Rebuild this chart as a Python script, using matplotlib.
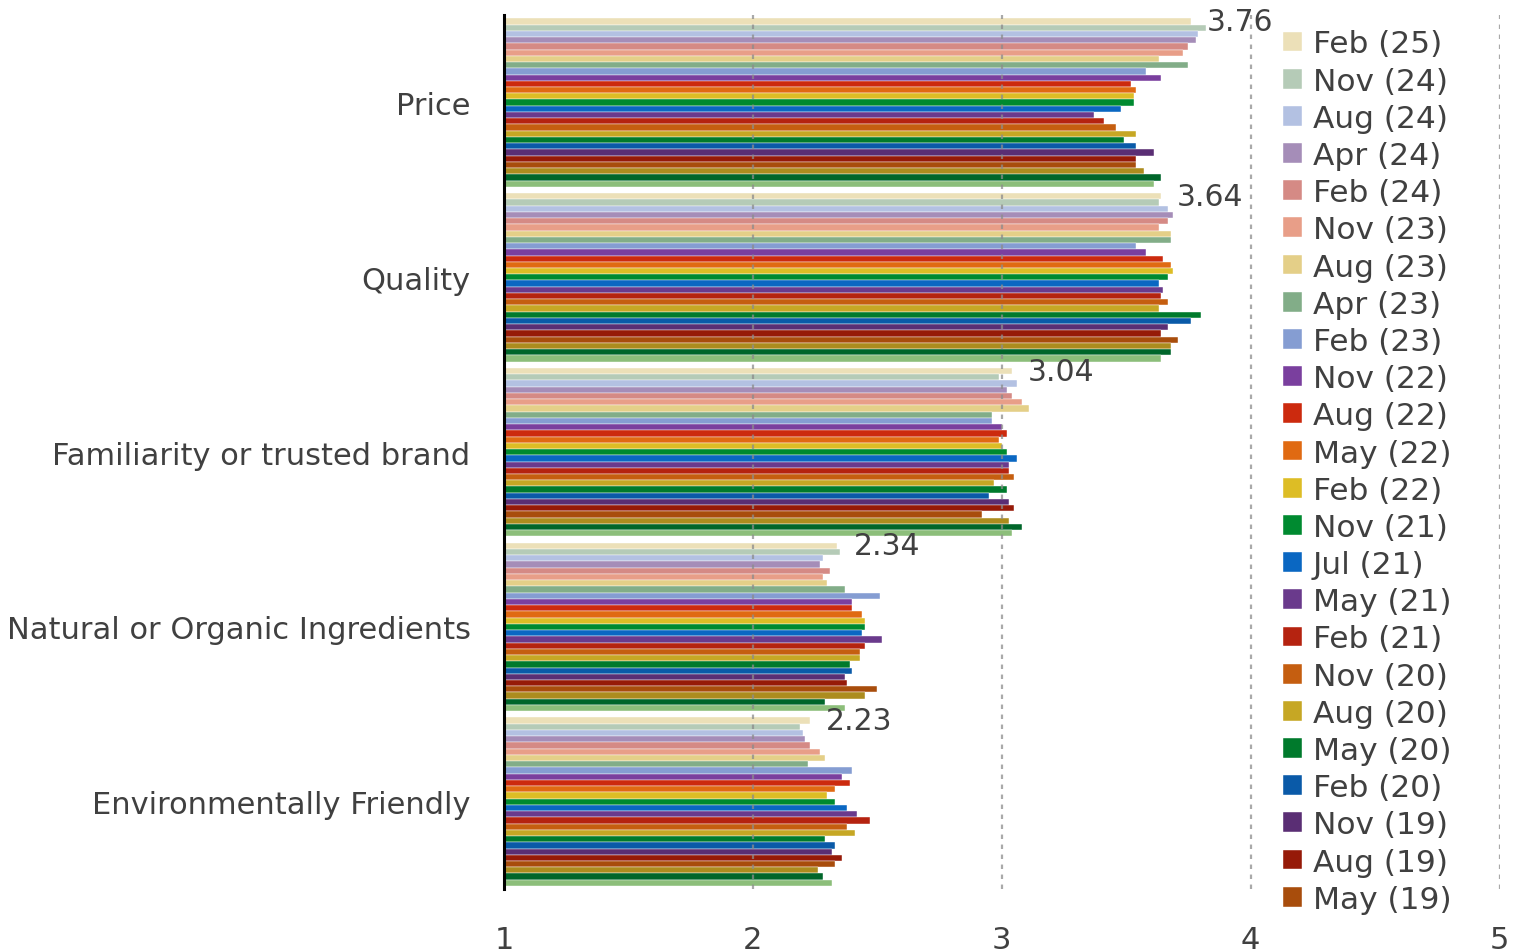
import matplotlib.pyplot as plt
import numpy as np

categories = ["Price", "Quality", "Familiarity or trusted brand",
              "Natural or Organic Ingredients", "Environmentally Friendly"]

waves = ["Feb (25)", "Nov (24)", "Aug (24)", "Apr (24)", "Feb (24)", "Nov (23)",
         "Aug (23)", "Apr (23)", "Feb (23)", "Nov (22)", "Aug (22)", "May (22)",
         "Feb (22)", "Nov (21)", "Jul (21)", "May (21)", "Feb (21)", "Nov (20)",
         "Aug (20)", "May (20)", "Feb (20)", "Nov (19)", "Aug (19)", "May (19)",
         "Feb (19)", "Nov (18)", "Aug (18)"]

colors = ["#ECE0B8", "#B5CBB7", "#B3C1E2", "#A58DB8", "#D58A85", "#E89E88",
          "#E4CF88", "#82AD88", "#859DD2", "#7A3F9E", "#CC2A0E", "#E06A12",
          "#DDBD25", "#008A30", "#0A67C2", "#6A3A8C", "#B52310", "#C55E10",
          "#C6A724", "#007A2C", "#0A5AA8", "#5A2E74", "#961A08", "#A84D0C",
          "#AC8C1E", "#00662A", "#8CBE7A"]

# one list per category, in wave order (newest first)
price = [3.76, 3.82, 3.79, 3.78, 3.75, 3.73, 3.63, 3.75, 3.58, 3.64, 3.52, 3.54,
         3.53, 3.53, 3.48, 3.37, 3.41, 3.46, 3.54, 3.49, 3.54, 3.61, 3.54, 3.54,
         3.57, 3.64, 3.61]
quality = [3.64, 3.63, 3.67, 3.69, 3.67, 3.63, 3.68, 3.68, 3.54, 3.58, 3.65, 3.68,
           3.69, 3.67, 3.63, 3.65, 3.64, 3.67, 3.63, 3.80, 3.76, 3.67, 3.64, 3.71,
           3.68, 3.68, 3.64]
familiarity = [3.04, 2.99, 3.06, 3.02, 3.04, 3.08, 3.11, 2.96, 2.96, 3.00, 3.02, 2.99,
               3.00, 3.02, 3.06, 3.03, 3.03, 3.05, 2.97, 3.02, 2.95, 3.03, 3.05, 2.92,
               3.03, 3.08, 3.04]
natural = [2.34, 2.35, 2.28, 2.27, 2.31, 2.28, 2.30, 2.37, 2.51, 2.40, 2.40, 2.44,
           2.45, 2.45, 2.44, 2.52, 2.45, 2.43, 2.43, 2.39, 2.40, 2.37, 2.38, 2.50,
           2.45, 2.29, 2.37]
environment = [2.23, 2.19, 2.20, 2.21, 2.23, 2.27, 2.29, 2.22, 2.40, 2.36, 2.39, 2.33,
               2.30, 2.33, 2.38, 2.42, 2.47, 2.38, 2.41, 2.29, 2.33, 2.32, 2.36, 2.33,
               2.26, 2.28, 2.32]

data = np.array([price, quality, familiarity, natural, environment])
n_series = len(waves)
slot = 1.0 / (n_series + 1)
text_col = "#404040"

fig = plt.figure(figsize=(15.27, 9.53), dpi=100)
ax = fig.add_axes([0.330, 0.066, 0.652, 0.917])

y = np.arange(len(categories))
handles = []
for i in range(n_series):
    pos = y - 0.5 + slot * (i + 1)
    b = ax.barh(pos, data[:, i] - 1, left=1, height=slot, color=colors[i],
                edgecolor="white", linewidth=0.3, zorder=2, label=waves[i])
    handles.append(b)

# value labels for the newest wave
for j in range(len(categories)):
    top = y[j] - 0.5 + slot
    ax.text(data[j, 0] + 0.065, top, f"{data[j, 0]:.2f}", fontsize=21.5,
            color=text_col, va="center", ha="left", zorder=4)

ax.set_xlim(1, 5)
ax.set_ylim(len(categories) - 0.5, -0.5)
ax.set_xticks([1, 2, 3, 4, 5])
ax.set_yticks(y)
ax.set_yticklabels(categories)
ax.tick_params(axis="both", length=0, labelsize=22, colors=text_col)
ax.tick_params(axis="x", pad=26)
ax.tick_params(axis="y", pad=24)

for s in ["top", "right", "bottom"]:
    ax.spines[s].set_visible(False)
ax.spines["left"].set_linewidth(2.2)
ax.spines["left"].set_color("black")
ax.spines["left"].set_zorder(5)

for xv in [2, 3, 4, 5]:
    ax.axvline(xv, color="#8c8c8c", linestyle=(0, (2, 2.5)), linewidth=1.6,
               zorder=3, alpha=0.75)

leg = ax.legend(handles=handles[:24], loc="upper left",
                bbox_to_anchor=(0.77, 0.998), frameon=False, fontsize=22.5,
                handlelength=0.6, handleheight=0.6, handletextpad=0.35,
                labelspacing=0.262, borderaxespad=0)
for t in leg.get_texts():
    t.set_color(text_col)
leg.set_zorder(6)

fig.savefig("out.png", dpi=100)
